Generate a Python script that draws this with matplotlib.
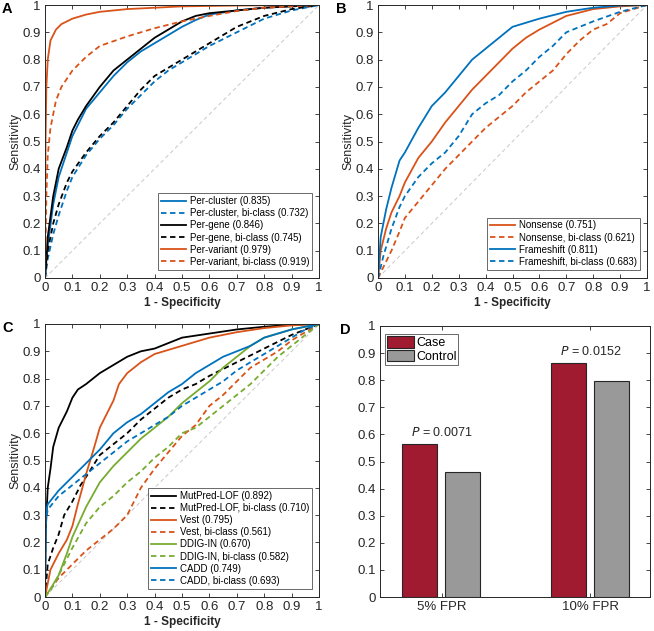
import numpy as np
import matplotlib
matplotlib.use("Agg")
from matplotlib import pyplot as plt

plt.rcParams['font.family'] = ['Liberation Sans', 'DejaVu Sans']

BLUE = '#0072BD'
ORANGE = '#D95319'
GREEN = '#77AC30'
BLACK = '#000000'

# ---- panel A: ROC curves (1 - specificity, sensitivity)
a_cluster_x = [0, 0.01, 0.03, 0.05, 0.08, 0.1, 0.15, 0.2, 0.25, 0.3, 0.35, 0.4, 0.45, 0.5, 0.55, 0.6, 0.7, 0.8, 0.9, 1]
a_cluster_y = [0, 0.12, 0.27, 0.37, 0.46, 0.52, 0.62, 0.68, 0.74, 0.79, 0.83, 0.86, 0.89, 0.92, 0.945, 0.965, 0.98, 0.99, 0.996, 1]
a_cluster_bi_x = [0, 0.01, 0.03, 0.05, 0.08, 0.1, 0.15, 0.2, 0.25, 0.3, 0.35, 0.4, 0.45, 0.5, 0.6, 0.7, 0.8, 0.9, 1]
a_cluster_bi_y = [0, 0.07, 0.16, 0.23, 0.32, 0.37, 0.45, 0.51, 0.56, 0.62, 0.67, 0.72, 0.76, 0.79, 0.85, 0.9, 0.95, 0.98, 1]
a_gene_x = [0, 0.01, 0.03, 0.05, 0.08, 0.1, 0.12, 0.15, 0.2, 0.25, 0.3, 0.35, 0.4, 0.45, 0.5, 0.55, 0.6, 0.7, 0.8, 0.9, 1]
a_gene_y = [0, 0.15, 0.3, 0.4, 0.48, 0.54, 0.58, 0.63, 0.7, 0.76, 0.8, 0.84, 0.88, 0.91, 0.94, 0.96, 0.97, 0.98, 0.99, 0.995, 1]
a_gene_bi_x = [0, 0.01, 0.03, 0.05, 0.08, 0.1, 0.15, 0.2, 0.25, 0.3, 0.35, 0.4, 0.45, 0.5, 0.6, 0.7, 0.8, 0.9, 1]
a_gene_bi_y = [0, 0.1, 0.2, 0.27, 0.35, 0.39, 0.46, 0.52, 0.57, 0.63, 0.69, 0.74, 0.77, 0.8, 0.86, 0.92, 0.96, 0.985, 1]
a_variant_x = [0, 0.002, 0.005, 0.01, 0.02, 0.04, 0.06, 0.1, 0.15, 0.2, 0.3, 0.5, 0.7, 1]
a_variant_y = [0, 0.5, 0.7, 0.8, 0.87, 0.91, 0.93, 0.95, 0.965, 0.975, 0.985, 0.995, 0.998, 1]
a_variant_bi_x = [0, 0.005, 0.01, 0.02, 0.04, 0.06, 0.08, 0.1, 0.15, 0.2, 0.3, 0.4, 0.5, 0.6, 0.7, 0.8, 0.9, 1]
a_variant_bi_y = [0, 0.3, 0.45, 0.55, 0.65, 0.7, 0.73, 0.76, 0.81, 0.85, 0.885, 0.915, 0.94, 0.96, 0.978, 0.99, 0.995, 1]

# ---- panel B
b_nons_x = [0, 0.01, 0.03, 0.05, 0.08, 0.1, 0.15, 0.2, 0.25, 0.3, 0.35, 0.4, 0.45, 0.5, 0.55, 0.6, 0.65, 0.7, 0.8, 0.9, 1]
b_nons_y = [0, 0.1, 0.18, 0.24, 0.3, 0.35, 0.44, 0.5, 0.57, 0.63, 0.69, 0.74, 0.79, 0.84, 0.88, 0.91, 0.935, 0.96, 0.985, 0.995, 1]
b_nons_bi_x = [0, 0.02, 0.05, 0.08, 0.1, 0.15, 0.2, 0.25, 0.3, 0.35, 0.4, 0.45, 0.5, 0.55, 0.6, 0.65, 0.7, 0.75, 0.8, 0.85, 0.9, 1]
b_nons_bi_y = [0, 0.04, 0.1, 0.17, 0.22, 0.28, 0.34, 0.4, 0.45, 0.5, 0.55, 0.59, 0.63, 0.68, 0.72, 0.76, 0.82, 0.87, 0.91, 0.93, 0.97, 1]
b_frame_x = [0, 0.01, 0.03, 0.05, 0.08, 0.1, 0.15, 0.2, 0.25, 0.3, 0.35, 0.4, 0.45, 0.5, 0.6, 0.7, 0.8, 0.9, 1]
b_frame_y = [0, 0.15, 0.25, 0.33, 0.43, 0.46, 0.55, 0.63, 0.68, 0.74, 0.8, 0.84, 0.88, 0.92, 0.95, 0.975, 0.99, 0.998, 1]
b_frame_bi_x = [0, 0.02, 0.05, 0.08, 0.1, 0.15, 0.2, 0.25, 0.3, 0.35, 0.4, 0.45, 0.5, 0.55, 0.6, 0.65, 0.7, 0.8, 0.9, 1]
b_frame_bi_y = [0, 0.08, 0.18, 0.26, 0.3, 0.37, 0.42, 0.46, 0.52, 0.6, 0.64, 0.67, 0.72, 0.76, 0.81, 0.85, 0.9, 0.94, 0.975, 1]

# ---- panel C
c_mut_x = [0, 0.003, 0.01, 0.02, 0.03, 0.05, 0.08, 0.1, 0.12, 0.15, 0.2, 0.25, 0.3, 0.35, 0.4, 0.45, 0.5, 0.6, 0.7, 0.8, 0.9, 1]
c_mut_y = [0, 0.25, 0.4, 0.47, 0.55, 0.62, 0.68, 0.73, 0.76, 0.78, 0.82, 0.85, 0.88, 0.9, 0.91, 0.93, 0.95, 0.965, 0.98, 0.99, 0.997, 1]
c_mut_bi_x = [0, 0.01, 0.03, 0.05, 0.07, 0.1, 0.13, 0.15, 0.2, 0.25, 0.3, 0.35, 0.4, 0.45, 0.5, 0.55, 0.6, 0.7, 0.8, 0.9, 1]
c_mut_bi_y = [0, 0.12, 0.18, 0.23, 0.3, 0.35, 0.41, 0.44, 0.52, 0.56, 0.6, 0.65, 0.69, 0.73, 0.76, 0.78, 0.81, 0.86, 0.91, 0.96, 1]
c_vest_x = [0, 0.02, 0.05, 0.08, 0.1, 0.12, 0.15, 0.18, 0.2, 0.25, 0.27, 0.3, 0.35, 0.4, 0.5, 0.6, 0.7, 0.8, 0.9, 1]
c_vest_y = [0, 0.1, 0.16, 0.21, 0.26, 0.34, 0.45, 0.55, 0.62, 0.72, 0.78, 0.82, 0.86, 0.89, 0.92, 0.95, 0.97, 0.985, 0.995, 1]
c_vest_bi_x = [0, 0.05, 0.1, 0.15, 0.2, 0.25, 0.3, 0.33, 0.35, 0.4, 0.45, 0.5, 0.55, 0.6, 0.65, 0.7, 0.75, 0.8, 0.85, 0.9, 1]
c_vest_bi_y = [0, 0.07, 0.12, 0.17, 0.21, 0.25, 0.3, 0.36, 0.4, 0.47, 0.53, 0.59, 0.63, 0.7, 0.74, 0.79, 0.84, 0.87, 0.9, 0.94, 1]
c_ddig_x = [0, 0.02, 0.05, 0.08, 0.1, 0.15, 0.2, 0.25, 0.3, 0.35, 0.4, 0.45, 0.5, 0.55, 0.6, 0.65, 0.7, 0.75, 0.8, 0.9, 1]
c_ddig_y = [0, 0.03, 0.08, 0.16, 0.22, 0.33, 0.42, 0.48, 0.53, 0.58, 0.62, 0.66, 0.71, 0.75, 0.79, 0.84, 0.88, 0.92, 0.95, 0.98, 1]
c_ddig_bi_x = [0, 0.03, 0.06, 0.1, 0.15, 0.2, 0.25, 0.3, 0.35, 0.4, 0.45, 0.5, 0.55, 0.6, 0.65, 0.7, 0.75, 0.8, 0.85, 0.9, 0.95, 1]
c_ddig_bi_y = [0, 0.04, 0.1, 0.18, 0.27, 0.33, 0.37, 0.42, 0.46, 0.51, 0.55, 0.6, 0.62, 0.66, 0.7, 0.74, 0.78, 0.83, 0.88, 0.92, 0.96, 1]
c_cadd_x = [0, 0.002, 0.005, 0.01, 0.05, 0.1, 0.15, 0.2, 0.25, 0.3, 0.35, 0.4, 0.45, 0.5, 0.55, 0.6, 0.65, 0.7, 0.75, 0.8, 0.9, 1]
c_cadd_y = [0, 0.26, 0.32, 0.34, 0.39, 0.44, 0.49, 0.54, 0.6, 0.64, 0.67, 0.71, 0.75, 0.78, 0.82, 0.85, 0.88, 0.9, 0.92, 0.95, 0.98, 1]
c_cadd_bi_x = [0, 0.003, 0.01, 0.05, 0.1, 0.15, 0.2, 0.25, 0.3, 0.35, 0.4, 0.45, 0.5, 0.55, 0.6, 0.65, 0.7, 0.75, 0.8, 0.85, 0.9, 0.95, 1]
c_cadd_bi_y = [0, 0.28, 0.32, 0.37, 0.41, 0.45, 0.49, 0.53, 0.57, 0.6, 0.63, 0.66, 0.7, 0.73, 0.76, 0.79, 0.83, 0.86, 0.89, 0.92, 0.95, 0.98, 1]

# ---- panel D
d_categories = ['5% FPR', '10% FPR']
d_case = [0.565, 0.865]
d_control = [0.46, 0.798]
d_pvalues = ['0.0071', '0.0152']

W, H = 654, 631
fig = plt.figure(figsize=(W / 100, H / 100), dpi=100)
TXT = '#262626'


def px_axes(left, top, right, bottom):
    return fig.add_axes([left / W, 1 - bottom / H, (right - left) / W, (bottom - top) / H])


def style_axes(ax):
    ax.tick_params(direction='in', length=3, width=0.6, labelsize=9.5, colors=TXT,
                   top=True, right=True, pad=3)
    for s in ax.spines.values():
        s.set_linewidth(0.7)
        s.set_color(TXT)


def tick_labels(ticks):
    return ['0'] + [f'{t:.1f}' for t in ticks[1:-1]] + ['1']


def roc_axes(ax, curves, letter):
    ax.plot([0, 1], [0, 1], color='#c8c8c8', lw=0.7, dashes=(4, 3))
    for x, y, c, ls, lab in curves:
        ax.plot(x, y, color=c, ls='-' if ls == 's' else (0, (3, 2)), lw=1.3, label=lab)
    ax.set_xlim(0, 1)
    ax.set_ylim(0, 1)
    ticks = np.round(np.arange(0, 1.01, 0.1), 1)
    ax.set_xticks(ticks)
    ax.set_xticklabels(tick_labels(ticks))
    ax.set_yticks(ticks)
    ax.set_yticklabels(tick_labels(ticks))
    style_axes(ax)
    ax.set_xlabel('1 - Specificity', fontsize=8.5, fontweight='bold', color=TXT, labelpad=2)
    ax.set_ylabel('Sensitivity', fontsize=9, color=TXT, labelpad=1)
    leg = ax.legend(loc='lower right', bbox_to_anchor=(0.975, 0.03), fontsize=7, frameon=True,
                    fancybox=False, edgecolor=TXT, handlelength=2.6, borderpad=0.3,
                    labelspacing=0.22, handletextpad=0.4, borderaxespad=0)
    leg.get_frame().set_linewidth(0.6)
    ax.text(-43 / 274, 1 + 3 / 273, letter, transform=ax.transAxes, fontsize=10.5,
            fontweight='bold', ha='left', va='top')


axA = px_axes(45, 5, 319, 278)
roc_axes(axA, [
    (a_cluster_x, a_cluster_y, BLUE, 's', 'Per-cluster (0.835)'),
    (a_cluster_bi_x, a_cluster_bi_y, BLUE, 'd', 'Per-cluster, bi-class (0.732)'),
    (a_gene_x, a_gene_y, BLACK, 's', 'Per-gene (0.846)'),
    (a_gene_bi_x, a_gene_bi_y, BLACK, 'd', 'Per-gene, bi-class (0.745)'),
    (a_variant_x, a_variant_y, ORANGE, 's', 'Per-variant (0.979)'),
    (a_variant_bi_x, a_variant_bi_y, ORANGE, 'd', 'Per-variant, bi-class (0.919)'),
], 'A')

axB = px_axes(378, 5, 647, 278)
roc_axes(axB, [
    (b_nons_x, b_nons_y, ORANGE, 's', 'Nonsense (0.751)'),
    (b_nons_bi_x, b_nons_bi_y, ORANGE, 'd', 'Nonsense, bi-class (0.621)'),
    (b_frame_x, b_frame_y, BLUE, 's', 'Frameshift (0.811)'),
    (b_frame_bi_x, b_frame_bi_y, BLUE, 'd', 'Frameshift, bi-class (0.683)'),
], 'B')

axC = px_axes(45, 324, 319, 597)
roc_axes(axC, [
    (c_mut_x, c_mut_y, BLACK, 's', 'MutPred-LOF (0.892)'),
    (c_mut_bi_x, c_mut_bi_y, BLACK, 'd', 'MutPred-LOF, bi-class (0.710)'),
    (c_vest_x, c_vest_y, ORANGE, 's', 'Vest (0.795)'),
    (c_vest_bi_x, c_vest_bi_y, ORANGE, 'd', 'Vest, bi-class (0.561)'),
    (c_ddig_x, c_ddig_y, GREEN, 's', 'DDIG-IN (0.670)'),
    (c_ddig_bi_x, c_ddig_bi_y, GREEN, 'd', 'DDIG-IN, bi-class (0.582)'),
    (c_cadd_x, c_cadd_y, BLUE, 's', 'CADD (0.749)'),
    (c_cadd_bi_x, c_cadd_bi_y, BLUE, 'd', 'CADD, bi-class (0.693)'),
], 'C')

# ---- bar panel
axD = px_axes(380, 326, 650, 597)
pos = np.arange(1, len(d_categories) + 1)
bw = 0.235
axD.bar(pos - 0.145, d_case, width=bw, color='#A01A30', edgecolor=TXT, lw=0.8, label='Case')
axD.bar(pos + 0.14, d_control, width=bw, color='#999999', edgecolor=TXT, lw=0.8, label='Control')
for p, c, ctl, pv in zip(pos, d_case, d_control, d_pvalues):
    axD.text(p, max(c, ctl) + 0.018, f'$P$ = {pv}', ha='center', va='bottom', fontsize=9,
             color=TXT)
axD.set_xlim(0.587, 2.4)
axD.set_ylim(0, 1)
axD.set_xticks(pos)
axD.set_xticklabels(d_categories)
yt = np.round(np.arange(0, 1.01, 0.1), 1)
axD.set_yticks(yt)
axD.set_yticklabels(tick_labels(yt))
style_axes(axD)
legD = axD.legend(loc='upper left', bbox_to_anchor=(0.018, 0.97), fontsize=9, frameon=True,
                  fancybox=False, edgecolor=TXT, handlelength=2.2, handleheight=1.05,
                  borderpad=0.15, labelspacing=0.05, handletextpad=0.15, borderaxespad=0)
legD.get_frame().set_linewidth(0.6)
axD.text(-40 / 272, 1 + 3 / 271, 'D', transform=axD.transAxes, fontsize=10.5,
         fontweight='bold', ha='left', va='top')

fig.savefig('out.png', dpi=100)
